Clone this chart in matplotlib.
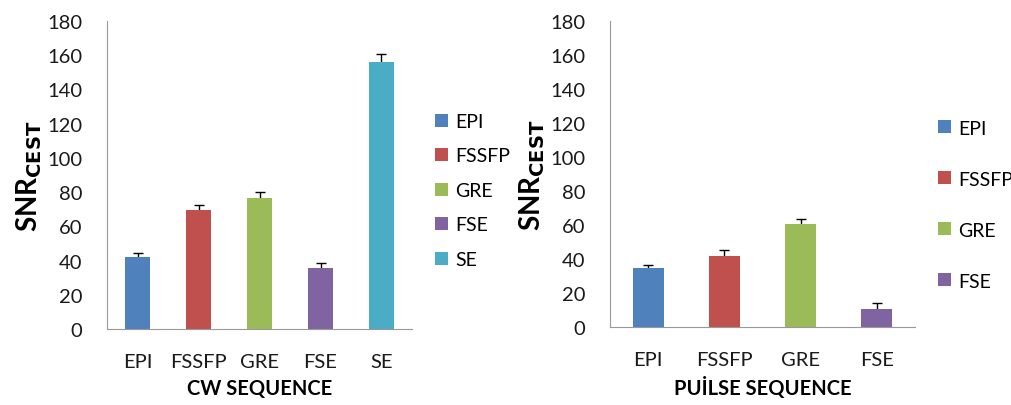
import matplotlib
matplotlib.use('Agg')
import matplotlib.pyplot as plt
import numpy as np

plt.rcParams['font.family'] = ['Lato', 'DejaVu Sans']

# CW sequence data
cw_labels = ['EPI', 'FSSFP', 'GRE', 'FSE', 'SE']
cw_values = [42, 69.5, 76.5, 35.5, 156]
cw_errors = [2.5, 3, 3.5, 3, 4.5]

# pulse sequence data
pulse_labels = ['EPI', 'FSSFP', 'GRE', 'FSE']
pulse_values = [34.5, 42, 60.5, 10.5]
pulse_errors = [2, 3.5, 3, 3.5]

colors = ['#4F81BD', '#C0504D', '#9BBB59', '#8064A2', '#4BACC6']


def draw_panel(ax, labels, values, errors, xlabel, spacing, legend_y):
    x = np.arange(len(labels))
    bars = ax.bar(x, values, width=0.41, color=colors[:len(labels)], zorder=2)
    # only the upper half of the error bar shows, the lower cap hides under the bar
    ax.errorbar(x, values, yerr=errors, fmt='none', ecolor='black',
                elinewidth=1, capsize=3.5, capthick=1, zorder=1)
    ax.set_xlim(-0.5, len(labels) - 0.5)
    ax.set_ylim(0, 180)
    ax.set_yticks(range(0, 181, 20))
    ax.set_xticks(x)
    ax.set_xticklabels(labels)
    ax.tick_params(length=0, labelsize=14.5, colors='#1a1a1a')
    ax.tick_params(axis='y', pad=18)
    ax.tick_params(axis='x', pad=17)
    for s in ['top', 'right']:
        ax.spines[s].set_visible(False)
    for s in ['left', 'bottom']:
        ax.spines[s].set_color('#999999')
    ax.set_xlabel(xlabel, fontsize=14.5, fontweight='bold', labelpad=6)
    ax.set_ylabel(r'SNR$_{\mathbf{CEST}}$', fontsize=20, fontweight='bold', labelpad=2)
    ax.legend(bars, labels, loc='center left', bbox_to_anchor=(1.02, legend_y),
              frameon=False, fontsize=14, handlelength=0.65, handleheight=0.65,
              handletextpad=0.35, labelspacing=spacing)


fig = plt.figure(figsize=(10.12, 4.06), dpi=100)
ax1 = fig.add_axes([0.106, 0.187, 0.301, 0.759])
ax2 = fig.add_axes([0.603, 0.192, 0.301, 0.754])

draw_panel(ax1, cw_labels, cw_values, cw_errors, 'CW SEQUENCE', 0.9, 0.45)
draw_panel(ax2, pulse_labels, pulse_values, pulse_errors, 'PUİLSE SEQUENCE', 1.75, 0.40)

fig.savefig('out.png', dpi=100)
